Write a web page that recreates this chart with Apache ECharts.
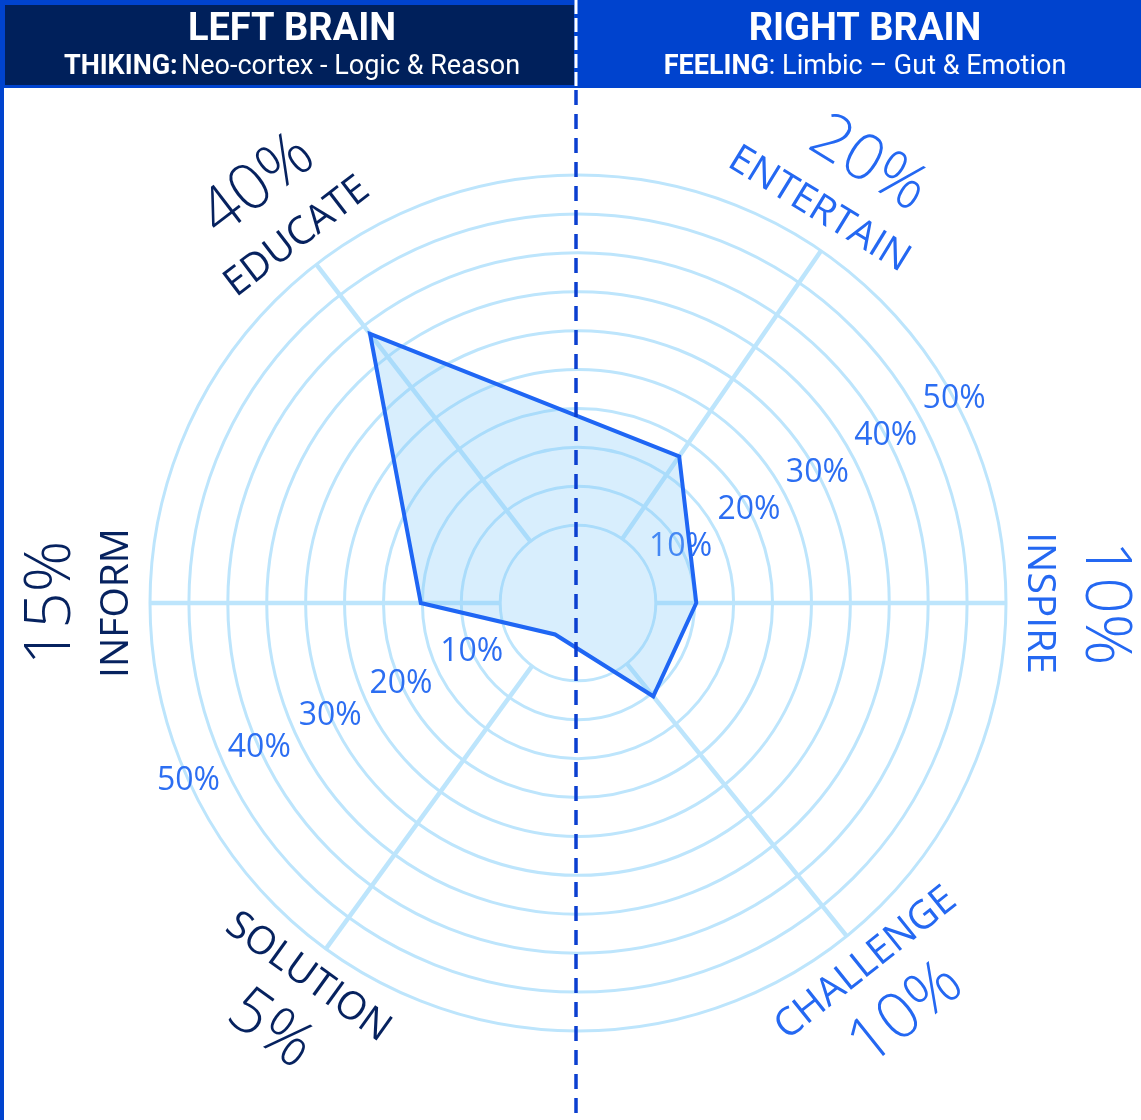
<!DOCTYPE html>
<html>
<head>
<meta charset="utf-8">
<script src="https://cdn.jsdelivr.net/npm/echarts@6/dist/echarts.min.js"></script>
<style>
  html, body { margin: 0; padding: 0; background: #fff; }
  #main { width: 1141px; height: 1120px; }
</style>
</head>
<body>
<div id="main"></div>
<script>
// categories, clockwise from the top, and the compass angle of each spoke
var categories = ['EDUCATE', 'ENTERTAIN', 'INSPIRE', 'CHALLENGE', 'SOLUTION', 'INFORM'];
var spokeAngles = [322.3, 34.6, 90, 141.1, 216.1, 270];
// share printed next to each name
var shares = ['40%', '20%', '10%', '10%', '5%', '15%'];
// polygon values as drawn on the rings
var drawnValues = [38.7, 17.9, 10.2, 10.4, 0, 15.2];
// ring tick labels
var ringLabels = [10, 20, 30, 40, 50];

var navy = '#06225f';
var blue = '#2468f2';
var ringColor = '#bde5fc';
// names sit a little off the spoke for ENTERTAIN
var labelAngles = [322.5, 31.5, 90, 141.4, 215.8, 270];

var myChart = echarts.init(document.getElementById('main'));

var ringColors = [];
for (var k = -5; k <= 50; k += 5) {
    ringColors.push(k <= 0 ? 'rgba(0,0,0,0)' : ringColor);
}

function tickFormatter(v) {
    return ringLabels.indexOf(v) >= 0 ? v + '%' : '';
}

function spokeItem(params, api) {
    var a = api.value(1);
    var p0 = api.coord([5, a]);
    var p1 = api.coord([50, a]);
    return {
        type: 'line',
        shape: { x1: p0[0], y1: p0[1], x2: p1[0], y2: p1[1] },
        style: { stroke: ringColor, lineWidth: 4.5 }
    };
}

function areaItem(params, api) {
    if (params.dataIndex !== 0) return null;
    var pts = [];
    for (var i = 0; i < drawnValues.length; i++) {
        pts.push(api.coord([drawnValues[i], spokeAngles[i]]));
    }
    return {
        type: 'polygon',
        shape: { points: pts },
        style: { fill: 'rgba(125,200,248,0.3)', stroke: '#1f66f4', lineWidth: 4, lineJoin: 'miter' }
    };
}

function nameItem(params, api) {
    var i = params.dataIndex;
    var a = labelAngles[i];
    var pn = api.coord([54.3, a]);
    var pp = api.coord([62.6, a + (i === 1 ? 2 : 0)]);
    var rot = (a > 90 && a < 270) ? 180 - a : -a;
    var color = a > 180 ? navy : blue;
    return {
        type: 'group',
        children: [{
            type: 'text',
            x: pn[0], y: pn[1],
            rotation: rot * Math.PI / 180,
            style: {
                text: categories[i], fill: color, fontSize: 39, fontWeight: 500,
                fontFamily: 'Open Sans', align: 'center', verticalAlign: 'middle'
            }
        }, {
            type: 'text',
            x: pp[0], y: pp[1],
            rotation: rot * Math.PI / 180,
            style: {
                text: shares[i], fill: color, fontSize: 64, fontWeight: 300,
                fontFamily: 'Open Sans', align: 'center', verticalAlign: 'middle'
            }
        }]
    };
}

var center = [578, 603];
var tickLabel = {
    margin: 0, align: 'center', verticalAlign: 'middle',
    color: '#2c6ef2', fontSize: 32, fontFamily: 'Open Sans',
    formatter: tickFormatter
};

myChart.setOption({
    animation: false,
    polar: [
        { center: center, radius: 428 },
        { center: center, radius: 428 },
        { center: center, radius: 428 }
    ],
    angleAxis: [
        { polarIndex: 0, type: 'value', min: 0, max: 360, startAngle: 90, clockwise: true,
          axisLine: { show: false }, axisTick: { show: false }, axisLabel: { show: false }, splitLine: { show: false } },
        { polarIndex: 1, type: 'value', min: 0, max: 360, startAngle: 28.5, show: false },
        { polarIndex: 2, type: 'value', min: 0, max: 360, startAngle: 204.5, show: false }
    ],
    radiusAxis: [
        { polarIndex: 0, type: 'value', min: -5, max: 50, interval: 5,
          axisLine: { show: false }, axisTick: { show: false }, axisLabel: { show: false },
          splitLine: { show: true, lineStyle: { color: ringColors, width: 3 } } },
        { polarIndex: 1, type: 'value', min: -5, max: 50, interval: 5,
          axisLine: { show: false }, axisTick: { show: false }, splitLine: { show: false },
          axisLabel: tickLabel },
        { polarIndex: 2, type: 'value', min: -5, max: 50, interval: 5,
          axisLine: { show: false }, axisTick: { show: false }, splitLine: { show: false },
          axisLabel: tickLabel }
    ],
    series: [
        {
            type: 'custom', coordinateSystem: 'polar', polarIndex: 0,
            renderItem: spokeItem,
            data: spokeAngles.map(function (a) { return [50, a]; }),
            silent: true
        },
        {
            type: 'custom', coordinateSystem: 'polar', polarIndex: 0,
            renderItem: areaItem,
            data: drawnValues.map(function (v, i) { return [v, spokeAngles[i]]; }),
            z: 3
        },
        {
            type: 'custom', coordinateSystem: 'polar', polarIndex: 0,
            renderItem: nameItem,
            data: categories.map(function (c, i) { return [54.3, labelAngles[i]]; }),
            silent: true
        }
    ],
    graphic: [
        // header
        { type: 'rect', shape: { x: 0, y: 0, width: 1141, height: 88 }, style: { fill: '#0043ce' }, z: 50 },
        { type: 'rect', shape: { x: 5, y: 5, width: 569, height: 80 }, style: { fill: '#00205b' }, z: 51 },
        { type: 'rect', shape: { x: 0, y: 0, width: 4, height: 1120 }, style: { fill: '#0043ce' }, z: 50 },
        {
            type: 'text', x: 292, y: 30, z: 52,
            style: { text: 'LEFT BRAIN', fill: '#fff', fontSize: 38, fontWeight: 'bold',
                     fontFamily: 'Roboto', align: 'center', verticalAlign: 'middle' }
        },
        {
            type: 'text', x: 292, y: 67, z: 52,
            style: {
                text: '{b|THIKING:} {n|Neo-cortex - Logic & Reason}',
                align: 'center', verticalAlign: 'middle', fill: '#fff',
                rich: {
                    b: { fontSize: 27, fontWeight: 'bold', fontFamily: 'Roboto', fill: '#fff' },
                    n: { fontSize: 27, fontFamily: 'Roboto', fill: '#fff' }
                }
            }
        },
        {
            type: 'text', x: 865, y: 30, z: 52,
            style: { text: 'RIGHT BRAIN', fill: '#fff', fontSize: 38, fontWeight: 'bold',
                     fontFamily: 'Roboto', align: 'center', verticalAlign: 'middle' }
        },
        {
            type: 'text', x: 865, y: 67, z: 52,
            style: {
                text: '{b|FEELING}{n|: Limbic \u2013 Gut & Emotion}',
                align: 'center', verticalAlign: 'middle', fill: '#fff',
                rich: {
                    b: { fontSize: 27, fontWeight: 'bold', fontFamily: 'Roboto', fill: '#fff' },
                    n: { fontSize: 27, fontFamily: 'Roboto', fill: '#fff' }
                }
            }
        },
        // divider
        { type: 'line', shape: { x1: 576, y1: 0, x2: 576, y2: 88 },
          style: { stroke: '#fff', lineWidth: 3, lineDash: [14, 4] }, z: 53 },
        { type: 'line', shape: { x1: 576, y1: 90, x2: 576, y2: 1120 },
          style: { stroke: '#0b3fd0', lineWidth: 3.5, lineDash: [15, 9] }, z: 53 }
    ]
});
</script>
</body>
</html>
